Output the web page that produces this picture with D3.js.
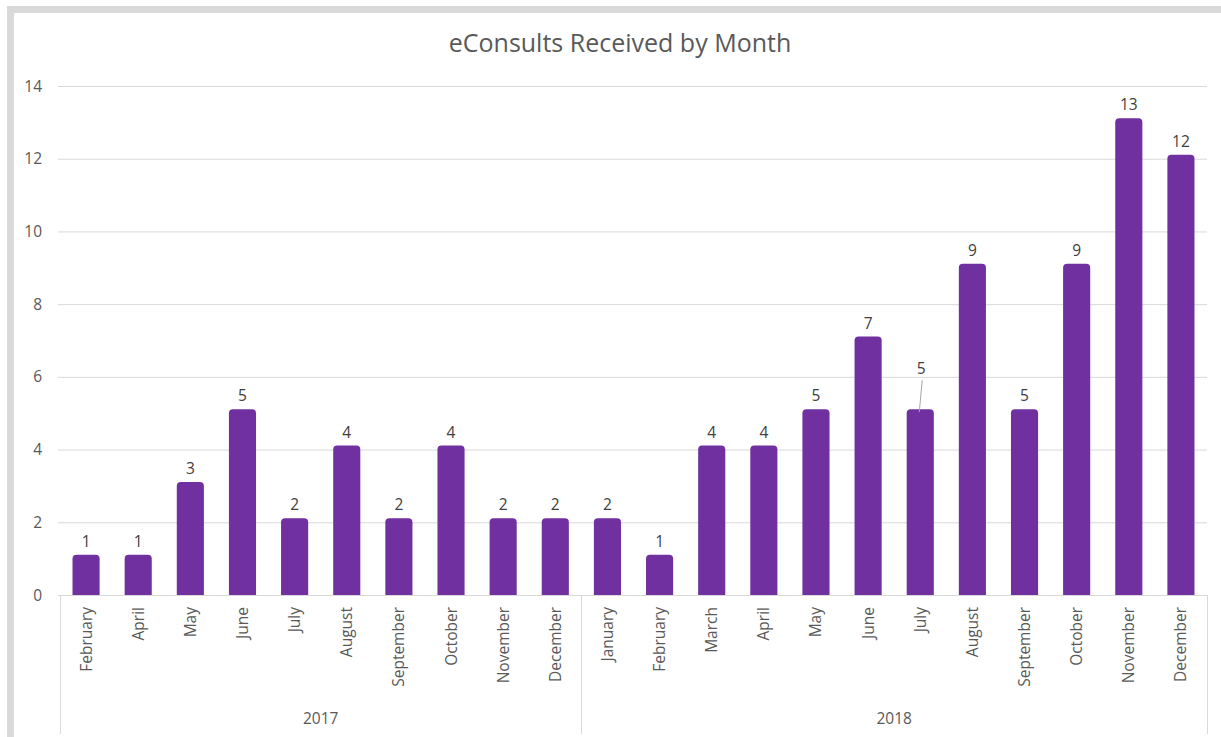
<!DOCTYPE html>
<html>
<head>
<meta charset="utf-8">
<script src="https://cdn.jsdelivr.net/npm/d3@7"></script>
<style>
  body { margin: 0; background: #fff; }
  svg { display: block; }
</style>
</head>
<body>
<div id="chart"></div>
<script>
// values
const years = ["2017", "2018"];
const months2017 = ["February", "April", "May", "June", "July", "August", "September", "October", "November", "December"];
const values2017 = [1, 1, 3, 5, 2, 4, 2, 4, 2, 2];
const months2018 = ["January", "February", "March", "April", "May", "June", "July", "August", "September", "October", "November", "December"];
const values2018 = [2, 1, 4, 4, 5, 7, 5, 9, 5, 9, 13, 12];
const yTicks = [0, 2, 4, 6, 8, 10, 12, 14];

let width = 1221, height = 737;
let margin = { top: 86, right: 14, bottom: 142, left: 60 };
let font = "'Open Sans', 'Noto Sans', sans-serif";

var rows = [];
months2017.forEach((m, i) => rows.push({ key: "2017-" + m, month: m, year: "2017", value: values2017[i] }));
months2018.forEach((m, i) => rows.push({ key: "2018-" + m, month: m, year: "2018", value: values2018[i] }));

var svg = d3.select("#chart").append("svg")
    .attr("width", width)
    .attr("height", height);

// grey frame of the screenshot (left and top)
svg.append("rect").attr("x", 7).attr("y", 6).attr("width", width - 7).attr("height", 7).attr("fill", "#d9d9d9");
svg.append("rect").attr("x", 7).attr("y", 6).attr("width", 7).attr("height", height - 6).attr("fill", "#d9d9d9");

var x = d3.scaleBand()
    .domain(rows.map(d => d.key))
    .range([margin.left, width - margin.right])
    .paddingInner(0.48)
    .paddingOuter(0.24);

var y = d3.scaleLinear()
    .domain([0, 14])
    .range([height - margin.bottom, margin.top]);

// gridlines
svg.append("g")
    .selectAll("line")
    .data(yTicks)
    .enter()
    .append("line")
    .attr("x1", margin.left - 2)
    .attr("x2", width - margin.right)
    .attr("y1", d => y(d) + 0.5)
    .attr("y2", d => y(d) + 0.5)
    .style("stroke", "#d9d9d9")
    .style("stroke-width", 1);

// y tick labels
svg.append("g")
    .selectAll("text")
    .data(yTicks)
    .enter()
    .append("text")
    .attr("x", 42)
    .attr("y", d => y(d) + 5.5)
    .attr("text-anchor", "end")
    .style("font-family", font)
    .style("font-size", "15.5px")
    .style("fill", "#595959")
    .text(d => d);

// bars, rounded top like the bevelled original
let lift = 4, r = 4;
svg.append("g")
    .selectAll("path")
    .data(rows)
    .enter()
    .append("path")
    .attr("d", d => {
        let x0 = x(d.key), w = x.bandwidth();
        let top = y(d.value) - lift, bot = y(0);
        return "M" + x0 + "," + bot +
            "V" + (top + r) +
            "Q" + x0 + "," + top + " " + (x0 + r) + "," + top +
            "H" + (x0 + w - r) +
            "Q" + (x0 + w) + "," + top + " " + (x0 + w) + "," + (top + r) +
            "V" + bot + "Z";
    })
    .style("fill", "#7030a0");

// data labels
svg.append("g")
    .selectAll("text")
    .data(rows)
    .enter()
    .append("text")
    .attr("x", d => x(d.key) + x.bandwidth() / 2 + (d.key == "2018-July" ? 1 : 0))
    .attr("y", d => d.key == "2018-July" ? y(d.value) - 39 : y(d.value) - 12)
    .attr("text-anchor", "middle")
    .style("font-family", font)
    .style("font-size", "15.5px")
    .style("fill", "#404040")
    .text(d => d.value);

// leader line for the moved July 2018 label
let jul = rows.find(d => d.key == "2018-July");
svg.append("line")
    .attr("x1", x(jul.key) + x.bandwidth() / 2 + 2)
    .attr("y1", y(jul.value) - 33)
    .attr("x2", x(jul.key) + x.bandwidth() / 2 - 1)
    .attr("y2", y(jul.value) - 1)
    .style("stroke", "#a6a6a6")
    .style("stroke-width", 1);

// month labels (rotated)
svg.append("g")
    .selectAll("text")
    .data(rows)
    .enter()
    .append("text")
    .attr("transform", d => "translate(" + (x(d.key) + x.bandwidth() / 2 + 5.5) + "," + (y(0) + 12) + ")rotate(-90)")
    .attr("text-anchor", "end")
    .style("font-family", font)
    .style("font-size", "15.5px")
    .style("fill", "#595959")
    .text(d => d.month);

// category axis: baseline and year dividers
let x0 = margin.left, xEnd = width - margin.right;
let splitX = x0 + months2017.length * (xEnd - x0) / rows.length;
svg.append("line")
    .attr("x1", x0).attr("x2", xEnd)
    .attr("y1", y(0) + 0.5).attr("y2", y(0) + 0.5)
    .style("stroke", "#d9d9d9");
[x0, splitX, xEnd].forEach(px => {
    svg.append("line")
        .attr("x1", Math.round(px) + 0.5).attr("x2", Math.round(px) + 0.5)
        .attr("y1", y(0)).attr("y2", 734)
        .style("stroke", "#d9d9d9");
});

// year labels
let yearCenters = [(x0 + splitX) / 2, (splitX + xEnd) / 2];
svg.append("g")
    .selectAll("text")
    .data(years)
    .enter()
    .append("text")
    .attr("x", (d, i) => yearCenters[i])
    .attr("y", 724)
    .attr("text-anchor", "middle")
    .style("font-family", font)
    .style("font-size", "15.5px")
    .style("fill", "#595959")
    .text(d => d);

// title
svg.append("text")
    .attr("x", 620)
    .attr("y", 52)
    .attr("text-anchor", "middle")
    .style("font-family", font)
    .style("font-size", "25px")
    .style("fill", "#595959")
    .text("eConsults Received by Month");
</script>
</body>
</html>
